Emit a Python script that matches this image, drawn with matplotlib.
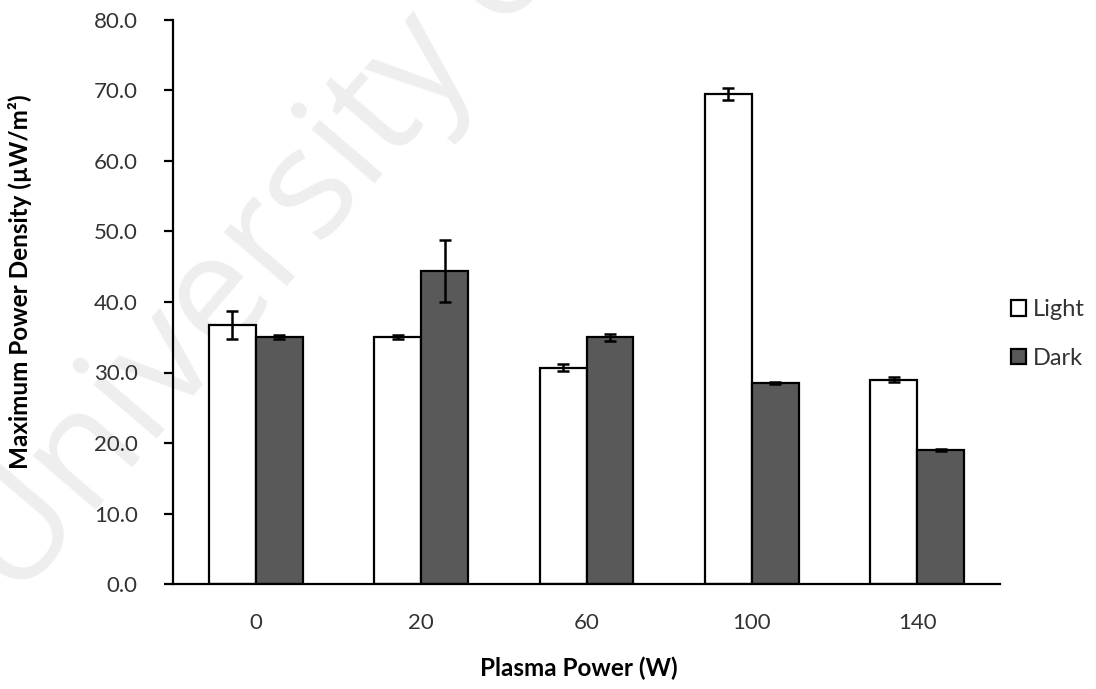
import matplotlib
matplotlib.use("Agg")
import matplotlib.pyplot as plt
import numpy as np
from matplotlib.patches import Patch

# Data
categories = ["0", "20", "60", "100", "140"]
light_vals = [36.7, 35.0, 30.7, 69.5, 29.0]
light_err = [2.0, 0.3, 0.55, 0.9, 0.3]
dark_vals = [35.0, 44.4, 35.0, 28.5, 19.0]
dark_err = [0.3, 4.4, 0.5, 0.2, 0.1]
y_ticks = [0, 10, 20, 30, 40, 50, 60, 70, 80]

FONT = ["Lato", "DejaVu Sans"]
plt.rcParams["font.family"] = FONT

W, H = 1096, 689
fig = plt.figure(figsize=(W / 100, H / 100), dpi=100)
ax = fig.add_axes([173 / W, 1 - 584 / H, 827 / W, 564 / H])
ax.set_zorder(2)
ax.set_facecolor("none")

# Faint diagonal watermark behind the plot
fig.text(16 / W, 1 - 604 / H, "University of Malaya", fontsize=110,
         family=["Open Sans", "DejaVu Sans"], color="#eeeeee",
         rotation=49.5, rotation_mode="anchor", ha="left", va="baseline",
         zorder=-5)

x = np.arange(len(categories))
bw = 0.283
err_kw = dict(ecolor="black", elinewidth=1.8, capsize=4.5, capthick=1.8)
ax.bar(x - bw / 2, light_vals, bw, yerr=light_err, color="white",
       edgecolor="black", linewidth=1.6, error_kw=err_kw, label="Light",
       zorder=2)
ax.bar(x + bw / 2, dark_vals, bw, yerr=dark_err, color="#595959",
       edgecolor="black", linewidth=1.6, error_kw=err_kw, label="Dark",
       zorder=2)

ax.set_xlim(-0.5, len(categories) - 0.5)
ax.set_ylim(0, 80)
ax.set_yticks(y_ticks)
ax.set_yticklabels([f"{v:.1f}" for v in y_ticks])
ax.set_xticks(x)
ax.set_xticklabels(categories)

for s in ["top", "right"]:
    ax.spines[s].set_visible(False)
for s in ["left", "bottom"]:
    ax.spines[s].set_linewidth(1.6)
    ax.spines[s].set_color("black")

ax.tick_params(axis="y", direction="out", length=6.5, width=1.6,
               pad=19, labelsize=16, labelcolor="#333333")
ax.tick_params(axis="x", length=0, pad=21, labelsize=16,
               labelcolor="#333333")

fig.text(20 / W, 1 - 282 / H, "Maximum Power Density (µW/m²)",
         rotation=90, ha="center", va="center", fontsize=17.5,
         fontweight="bold", color="black", zorder=3)
fig.text(579 / W, 1 - 668 / H, "Plasma Power (W)", ha="center",
         va="center", fontsize=17.5, fontweight="bold", color="black",
         zorder=3)

handles = [Patch(facecolor="white", edgecolor="black", linewidth=1.6),
           Patch(facecolor="#595959", edgecolor="black", linewidth=1.6)]
leg = fig.legend(handles, ["Light", "Dark"], loc="center left",
                 bbox_to_anchor=(1011 / W, 1 - 334 / H), frameon=False,
                 fontsize=17, handlelength=0.62, handleheight=0.62,
                 handletextpad=0.3, labelspacing=1.15, borderpad=0,
                 borderaxespad=0, labelcolor="#333333")
leg.set_zorder(3)

fig.savefig("out.png", dpi=100)
